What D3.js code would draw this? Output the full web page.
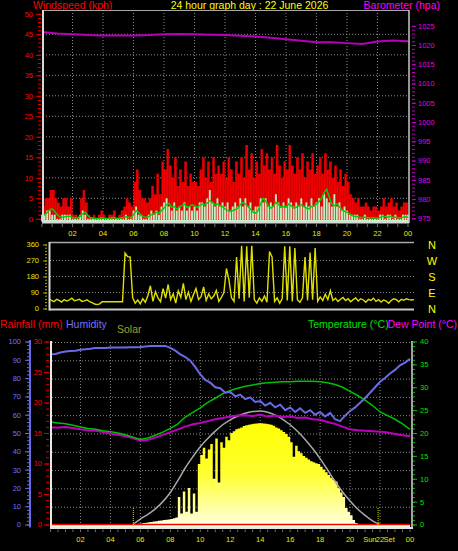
<!DOCTYPE html>
<html><head><meta charset="utf-8">
<script src="https://cdn.jsdelivr.net/npm/d3@7"></script>
<style>
body{margin:0;background:#000;}
svg{display:block;}
text{font-family:"Liberation Sans",Arial,sans-serif;}
</style></head>
<body><svg id="c" width="458" height="551"></svg>
<script>
// ---------- DATA ----------
const hourLabels = ["02","04","06","08","10","12","14","16","18","20","22","00"];
const hourTicks = [2,4,6,8,10,12,14,16,18,20,22,24];
const titleText = "24 hour graph day : 22 June 2026";
const windTicks = [0,5,10,15,20,25,30,35,40,45,50];
const baroTicks = [975,980,985,990,995,1000,1005,1010,1015,1020,1025];
const dirTicks = [0,90,180,270,360];
const dirLetters = ["N","E","S","W","N"];
const humTicks = [0,10,20,30,40,50,60,70,80,90,100];
const rainTicks = [0,5,10,15,20,25,30];
const tempTicks = [0,5,10,15,20,25,30,35,40];

// wind (kph), one value every 10 minutes from 00:00 to 24:00
const windGust = [3,5,5,7,7,5,4,3,5,5,3,5,1,1,0,5,7,4,1,0,1,0,1,2,1,0,1,1,2,0,
 1,2,3,5,4,3,9,12,7,5,5,4,5,8,6,11,6,14,12,17,13,10,15,8,12,9,14,8,11,9,
 9,8,12,15,10,14,9,15,11,13,11,14,10,15,12,9,14,11,15,10,18,12,16,10,14,11,17,13,16,12,
 15,11,18,13,10,14,12,18,13,11,15,12,16,10,14,12,16,11,13,15,11,16,12,14,10,13,9,12,8,11,
 9,6,5,4,5,3,3,4,3,2,3,3,2,3,5,3,4,5,3,4,2,3,4,4,4];
const windSpeed = [1,1,2,2,1,1,0,0,1,1,1,1,0,0,0,1,2,1,0,0,0,0,0,0,0,0,0,0,0,0,
 0,0,0,1,0,0,2,3,1,1,0,0,1,2,1,2,1,3,4,5,3,2,4,2,3,2,4,2,3,2,
 3,2,4,4,3,5,7,4,3,5,3,4,3,4,2,3,4,3,5,3,5,3,4,2,3,3,5,4,5,3,
 4,3,6,4,3,4,3,5,4,3,4,3,5,3,4,3,5,3,4,5,3,6,5,4,3,6,3,4,2,3,
 2,1,1,1,1,0,0,1,0,0,0,0,0,1,1,0,1,1,0,1,0,0,1,1,1];
const windAvg = [0.5,1,1.5,2.2,2.4,1.8,1,0.5,0.4,0.5,0.6,0.6,0.3,0.2,0.2,0.6,1.2,1.6,0.8,0.3,
 0.2,0.1,0.1,0.2,0.2,0.1,0.1,0.2,0.3,0.2,0.1,0.2,0.3,0.5,0.4,0.3,1,2,1.6,0.8,
 0.5,0.4,0.5,1,1.2,1.6,1.4,2,2.6,3.4,3.8,2.8,3,2.4,2.8,3.2,3.6,2.8,3,3.4,
 3.2,2.8,3.2,3.6,3.4,3.8,4.4,4,3.4,3.6,3.2,3,2.4,2,1.8,2,2.2,2.6,3.4,4,
 3.6,3,2.4,1.6,1.4,2,3.6,5,4.4,3.2,2.6,3,4,3.6,2.8,3,2.8,3.6,3.2,2.6,
 2.8,3.2,3.4,3,2.6,2.4,3,3.2,3.6,4.2,5,6.4,7.2,5.4,3.6,3.2,3.6,3,2.2,1.8,
 1.6,1.2,0.8,0.6,0.5,0.4,0.3,0.4,0.3,0.2,0.2,0.2,0.2,0.3,0.6,0.5,0.4,0.6,0.4,0.4,
 0.3,0.2,0.4,0.5,0.4];
// barometer (hPa), hourly
const barometer = [1023.4,1023.0,1022.8,1022.6,1022.5,1022.5,1022.5,1022.6,1022.8,1022.9,
 1022.8,1022.7,1022.6,1022.4,1022.2,1021.9,1021.5,1021.1,1020.7,1020.7,1020.5,1020.3,1020.9,1021.2,1021.0];
// wind direction (degrees), every 10 minutes
const windDir = [55,45,38,52,46,36,50,42,48,58,44,47,52,40,43,49,38,33,25,22,
 26,38,38,38,38,38,38,38,38,38,312,292,290,62,30,48,26,55,35,72,
 128,40,95,60,38,112,58,135,50,82,30,100,62,142,50,92,40,78,112,50,
 66,122,45,82,55,70,102,40,62,90,225,160,60,40,290,55,353,40,350,60,
 353,50,30,60,40,70,35,320,290,40,60,30,55,350,45,350,40,340,50,35,
 60,290,45,315,50,340,40,65,45,80,50,100,45,58,40,52,62,45,55,38,
 50,60,42,55,48,35,52,45,58,40,50,36,48,42,30,45,55,50,38,52,
 46,55,50,48,50];
// humidity (%), every 20 minutes
const humidity = [93,93.2,94,94.5,94.8,95,95.5,95.8,96,96.5,96.5,96.5,96.7,96.7,96.7,96.7,96.8,96.8,
 97,97.3,97.6,97.6,97.6,97.6,96.5,95,93,91.5,89.5,86,82,79,77.5,75,74.5,72,
 72.5,70,71,68.5,69.5,67,67.5,65,66.5,64,65.5,62.5,64,61.5,63.5,61,62.5,60,
 61.5,59,61,57.5,56.5,59.5,62,64,66.5,69,72,75,78,80,82.5,84.5,87,88.5,90.5];
// temperature and dew point (°C), every 30 minutes
const temperature = [22.4,22.2,22.0,21.7,21.3,21.0,20.8,20.5,20.3,20.0,19.6,19.1,18.6,18.9,19.5,20.2,
 21.0,22.0,23.5,24.5,25.5,26.7,27.6,28.6,29.3,29.8,30.2,30.5,30.8,31.0,31.1,31.2,
 31.2,31.3,31.3,31.3,31.2,31.0,30.6,30.0,29.1,28.2,27.2,26.0,24.6,23.8,23.0,22.0,20.8];
const dewPoint = [21.2,21.2,21.3,21.1,20.8,20.6,20.5,20.2,19.9,19.6,19.3,18.9,18.3,18.5,19.0,19.6,
 20.2,20.8,21.4,21.9,22.2,22.6,23.0,23.3,23.6,23.8,23.9,23.7,24.0,23.6,23.8,23.5,
 23.6,23.3,23.4,23.0,22.9,22.4,22.0,21.4,20.8,20.6,20.5,20.4,20.3,20.1,19.8,19.5,19.3];
// solar radiation (W/m2), every 10 minutes
const solar = [0,0,0,0,0,0,0,0,0,0,0,0,0,0,0,0,0,0,0,0,0,0,0,0,0,0,0,0,0,0,
 0,0,0,0,2,4,6,8,10,12,14,16,18,20,22,24,26,28,30,34,38,150,60,180,70,200,60,170,70,330,
 380,420,360,410,440,250,470,230,450,420,480,460,500,510,520,525,530,538,542,545,
 548,550,552,553,553,552,550,548,545,540,530,525,515,505,495,480,450,370,430,400,
 390,375,365,355,345,340,335,330,315,300,285,270,255,245,235,200,175,150,90,70,
 50,25,8,0,0,0,0,0,0,0,0,0,0,0,0,0,0,0,0,0,0,0,0,0,0];
// theoretical max solar (W/m2), every 30 minutes
const solarMax = [0,0,0,0,0,0,0,0,0,0,0,0,30,55,85,125,175,240,310,370,425,470,510,545,572,593,
 608,617,620,613,598,575,545,508,465,415,360,298,235,178,128,85,50,20,0,0,0,0,0];
// rainfall (mm), hourly
const rainfall = [0,0,0,0,0,0,0,0,0,0,0,0,0,0,0,0,0,0,0,0,0,0,0,0,0];
const sunriseHour = 5.53, sunsetHour = 21.87;

// ---------- SCALES ----------
const svg = d3.select("#c");
const xTop = d3.scaleLinear([0,24],[42,408]);
const xMid = d3.scaleLinear([0,24],[49,414]);
const xBot = d3.scaleLinear([0,24],[50.5,410]);
const yWind = d3.scaleLinear([0,50],[218.8,13.8]);
const yBaro = d3.scaleLinear([975,1025],[218.3,25.8]);
const yDir = d3.scaleLinear([0,360],[308.5,244.5]);
const yHum = d3.scaleLinear([0,100],[524.5,341.5]);
const yRain = d3.scaleLinear([0,30],[524.5,341.5]);
const yTemp = d3.scaleLinear([0,40],[524.5,341.5]);
const ySolar = d3.scaleLinear([0,1000],[524.5,341.5]);

const t10 = i => i/6, t20 = i => i/3, t30 = i => i/2, t60 = i => i;

function text(x,y,s,color,size,anchor){
  return svg.append("text").attr("x",x).attr("y",y).attr("fill",color)
    .attr("font-size",size).attr("text-anchor",anchor||"start").text(s);
}
function hline(x1,x2,y,color,w,dash){
  svg.append("line").attr("x1",x1).attr("x2",x2).attr("y1",y).attr("y2",y)
    .attr("stroke",color).attr("stroke-width",w).attr("stroke-dasharray",dash||null);
}
function vline(x,y1,y2,color,w,dash){
  svg.append("line").attr("x1",x).attr("x2",x).attr("y1",y1).attr("y2",y2)
    .attr("stroke",color).attr("stroke-width",w).attr("stroke-dasharray",dash||null);
}
function axis(kind,scale,x,major,minorStep,color,labelColor,majLen,minLen,pad,fmt){
  const d = scale.domain();
  const minor = d3.range(d[0], d[1]+1e-9, minorStep);
  const mk = kind==="left"?d3.axisLeft:d3.axisRight;
  const gm = svg.append("g").attr("transform",`translate(${x},0)`)
    .call(mk(scale).tickValues(minor).tickSize(minLen).tickFormat(""));
  gm.select(".domain").remove();
  gm.selectAll("line").attr("stroke",color);
  const g = svg.append("g").attr("transform",`translate(${x},0)`)
    .call(mk(scale).tickValues(major).tickSize(majLen).tickPadding(pad).tickFormat(fmt||d3.format("d")));
  g.select(".domain").remove();
  g.selectAll("line").attr("stroke",color);
  g.selectAll("text").attr("fill",labelColor).attr("font-size",7.5)
    .attr("font-family","Liberation Sans, Arial, sans-serif");
}

// ---------- TITLES ----------
text(33,9,"Windspeed (kph)","#ff0000",10.5);
text(249.5,9,titleText,"#ffff00",10.5,"middle");
text(440,9,"Barometer (hpa)","#ff00ff",10.5,"end");

// ---------- TOP PANEL ----------
windTicks.filter(v=>v>0 && v<50).forEach(v=>hline(43,408,yWind(v),"#8a8a8a",1,"1,2"));
hourTicks.filter(h=>h<24).forEach(h=>vline(xTop(h),10,222,"#8a8a8a",1,"1,2"));

const gustArea = d3.area().curve(d3.curveStepAfter)
  .x((d,i)=>xTop(t10(i))).y0(yWind(0)).y1(d=>yWind(d));
svg.append("path").datum(windGust).attr("d",gustArea).attr("fill","#f00000");
// darker red stripes on the gust bars
svg.append("g").selectAll("rect").data(windGust).join("rect")
  .attr("x",(d,i)=>xTop(t10(i))+1.6).attr("width",0.6)
  .attr("y",d=>yWind(d)+1).attr("height",d=>Math.max(0,yWind(0)-yWind(d)-1))
  .attr("fill","#b80000");
hline(43,408,yWind(0),"#ff0000",1.5);

svg.append("g").selectAll("rect").data(windSpeed).join("rect")
  .attr("x",(d,i)=>xTop(t10(i))-0.9).attr("width",1.9)
  .attr("y",d=>yWind(d)).attr("height",d=>Math.max(0,221.5-yWind(d)))
  .attr("fill","#c4ecc4");
hline(43,408,221,"#c8f0c8",2);

svg.append("path").datum(windAvg)
  .attr("d",d3.line().x((d,i)=>xTop(t10(i))).y(d=>yWind(d)))
  .attr("fill","none").attr("stroke","#00d000").attr("stroke-width",1.5);

svg.append("path").datum(barometer)
  .attr("d",d3.line().x((d,i)=>xTop(t60(i))).y(d=>yBaro(d)))
  .attr("fill","none").attr("stroke","#b800b8").attr("stroke-width",2);

hline(43,409,10.5,"#a8a8a8",1);
vline(409,10,223,"#c8c8c8",1.5);
vline(43,10,223,"#d8d8d8",2);
hline(42,409,222.5,"#d8d8d8",2);
d3.range(0,24.01,2/3).forEach(h=>vline(xTop(h),224,227,"#707070",1));

axis("left",yWind,41,windTicks,1,"#e00000","#ff0000",5,3,3);
axis("right",yBaro,412,baroTicks,1,"#c000c0","#e000e0",4,3,2);

hourTicks.forEach((h,i)=>text(xTop(h),235.5,hourLabels[i],"#e8e800",7.5,"middle"));

// ---------- MIDDLE PANEL (wind direction) ----------
[90,180,270].forEach(v=>hline(50,414,yDir(v),"#8a8a8a",1,"1,2"));
svg.append("path").datum(windDir)
  .attr("d",d3.line().x((d,i)=>xMid(t10(i))).y(d=>yDir(d)))
  .attr("fill","none").attr("stroke","#e0e000").attr("stroke-width",1.4);
hline(49,414,242.5,"#a8a8a8",1.5);
hline(49,414,309.5,"#c8c8c8",2);
vline(49.5,242,310.5,"#d8d8d8",2);
axis("left",yDir,47,dirTicks,18,"#b0b000","#e8e800",4,2,4);
dirTicks.forEach((v,i)=>text(432,yDir(v)+4,dirLetters[i],"#ffff00",11,"middle"));

// ---------- BOTTOM PANEL ----------
text(0,327.5,"Rainfall (mm)","#ff0000",10.5);
text(66,327.5,"Humidity","#7070ff",10.5);
text(117,332.5,"Solar","#a0a020",10.5);
text(308,327.5,"Temperature (\u00b0C)","#00e000",10.5);
text(387.5,327.5,"Dew Point (\u00b0C)","#ff00ff",10.5);

humTicks.filter(v=>v>0).forEach(v=>hline(52,412,yHum(v)+1,"#8a8a8a",1,"1,2"));
hourTicks.filter(h=>h<24).forEach(h=>vline(xBot(h),342,527,"#8a8a8a",1,"1,2"));

const defs = svg.append("defs");
const grad = defs.append("linearGradient").attr("id","solarGrad")
  .attr("gradientUnits","userSpaceOnUse").attr("x1",0).attr("x2",0).attr("y1",420).attr("y2",528);
grad.append("stop").attr("offset","0").attr("stop-color","#ffff00");
grad.append("stop").attr("offset","0.5").attr("stop-color","#ffff30");
grad.append("stop").attr("offset","1").attr("stop-color","#ffffe8");
svg.append("path").datum(solar)
  .attr("d",d3.area().curve(d3.curveStepAfter).x((d,i)=>xBot(t10(i))).y0(527.5).y1(d=>ySolar(d)))
  .attr("fill","url(#solarGrad)");

svg.append("path").datum(solarMax)
  .attr("d",d3.line().curve(d3.curveMonotoneX)
    .defined((d,i)=>d>0||(solarMax[i-1]||0)>0||(solarMax[i+1]||0)>0)
    .x((d,i)=>xBot(t30(i))).y(d=>ySolar(d)))
  .attr("fill","none").attr("stroke","#a8a8a8").attr("stroke-width",1.5);

svg.append("path").datum(dewPoint)
  .attr("d",d3.line().x((d,i)=>xBot(t30(i))).y(d=>yTemp(d)))
  .attr("fill","none").attr("stroke","#c000c0").attr("stroke-width",2);
svg.append("path").datum(temperature)
  .attr("d",d3.line().x((d,i)=>xBot(t30(i))).y(d=>yTemp(d)))
  .attr("fill","none").attr("stroke","#00c000").attr("stroke-width",1.5);
svg.append("path").datum(humidity)
  .attr("d",d3.line().x((d,i)=>xBot(t20(i))).y(d=>yHum(d)))
  .attr("fill","none").attr("stroke","#6a6ae6").attr("stroke-width",2);
svg.append("path").datum(rainfall)
  .attr("d",d3.line().x((d,i)=>xBot(t60(i))).y(d=>yRain(d)))
  .attr("fill","none").attr("stroke","#ff0000").attr("stroke-width",1.5);

[sunriseHour,sunsetHour].forEach(h=>vline(xBot(h),508,525,"#e0e000",1,"1,1"));

vline(51,341,528.5,"#e8e8e8",2);
hline(50,413,528,"#e8e8e8",2);
vline(412,341,528.5,"#d8d8d8",1.5);
d3.range(0,24.01,0.5).forEach(h=>vline(xBot(h),529.5,532,"#707070",1));

vline(30,340,527.5,"#6a6ae6",2);
axis("left",yHum,30,humTicks,2,"#6a6ae6","#7070ff",5,3,4);
axis("left",yRain,49,rainTicks,1,"#e00000","#ff0000",5,3,2);
axis("right",yTemp,413,tempTicks,1,"#00c000","#00e000",4,2,3);

hourTicks.forEach((h,i)=>{ if(h!==22) text(xBot(h),542,hourLabels[i],"#e8e800",7.5,"middle"); });
text(376.5,542,"Sun","#e8e800",7.5,"end");
text(xBot(22),542,"22","#e8e800",7.5,"middle");
text(383.5,542,"Set","#e8e800",7.5,"start");
</script>
</body></html>
